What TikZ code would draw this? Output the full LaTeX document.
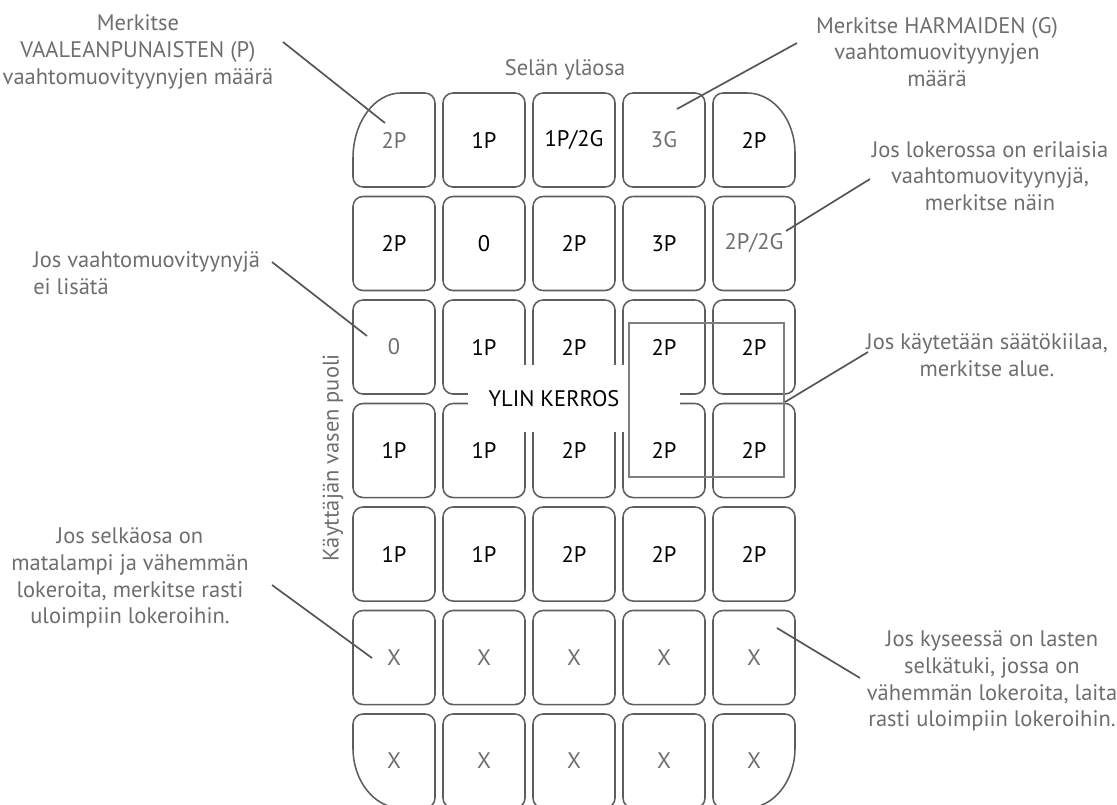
\documentclass[tikz,border=0pt]{standalone}
\usepackage{fontspec}
\setmainfont{PT Sans}
\usepackage{tikz}
\definecolor{CellGray}{HTML}{5E5E5E}
\definecolor{NoteGray}{HTML}{6E6E6E}
\definecolor{LineGray}{HTML}{555555}
\definecolor{WedgeGray}{HTML}{808080}
\newcommand{\notesize}{\fontsize{16}{19}\selectfont}
\newcommand{\cellsize}{\fontsize{16}{19}\selectfont}

\begin{document}
\begin{tikzpicture}[x=0.025cm,y=-0.025cm,
  cell/.style={draw=CellGray,line width=1.1pt,rounded corners=0.25cm,minimum width=2.05cm,minimum height=2.35cm,inner sep=0pt,font=\cellsize},
  opencell/.style={cell,draw=none},
  rim/.style={draw=CellGray,line width=1.1pt},
  note/.style={align=center,font=\notesize,text=NoteGray,inner sep=0pt},
  lead/.style={LineGray,line width=1.2pt},
  wedge/.style={draw=WedgeGray,line width=1.1pt}
]
  \clip (0,0) rectangle (1117,804);

  % grid of pockets
  \foreach \t/\c/\s [count=\i] in {2P/NoteGray/opencell,1P/black/cell,{1P/2G}/black/cell,3G/NoteGray/cell,2P/black/opencell}
    \node[\s,text=\c] (r1c\i) at ({394+90*(\i-1)},140) {\t};
  \foreach \t/\c [count=\i] in {2P/black,0/black,2P/black,3P/black,{2P/2G}/NoteGray}
    \node[cell,text=\c] (r2c\i) at ({394+90*(\i-1)},243.5) {\t};
  \foreach \t/\c [count=\i] in {0/NoteGray,1P/black,2P/black,2P/black,2P/black}
    \node[cell,text=\c] (r3c\i) at ({394+90*(\i-1)},347) {\t};
  \foreach \t [count=\i] in {1P,1P,2P,2P,2P}
    \node[cell] (r4c\i) at ({394+90*(\i-1)},450.5) {\t};
  \foreach \t [count=\i] in {1P,1P,2P,2P,2P}
    \node[cell] (r5c\i) at ({394+90*(\i-1)},554) {\t};
  \foreach \i in {1,...,5}
    \node[cell,text=NoteGray] (r6c\i) at ({394+90*(\i-1)},657.5) {X};
  \foreach \s [count=\i] in {opencell,cell,cell,cell,opencell}
    \node[\s,text=NoteGray] (r7c\i) at ({394+90*(\i-1)},761) {X};

  % corner pockets
  \draw[rim] (353,158) arc[start angle=180,end angle=90,x radius=1.2cm,y radius=1.625cm]
    [rounded corners=0.25cm] -- (435,93) -- (435,187) -- (353,187) -- (353,158);
  \draw[rim] (795,153) arc[start angle=0,end angle=90,x radius=1.2cm,y radius=1.5cm]
    [rounded corners=0.25cm] -- (713,93) -- (713,187) -- (795,187) -- (795,153);
  \draw[rim] (401,808) arc[start angle=270,end angle=180,x radius=1.2cm,y radius=1.5cm]
    [rounded corners=0.25cm] -- (353,714) -- (435,714) -- (435,808) -- (401,808);
  \draw[rim] (795,748) arc[start angle=0,end angle=-90,x radius=1.2cm,y radius=1.5cm]
    [rounded corners=0.25cm] -- (713,808) -- (713,714) -- (795,714) -- (795,748);

  \fill[white] (468,365) rectangle (680,432);
  \draw[wedge] (629,323) rectangle (784,477);
  \node[font=\cellsize,inner sep=0pt] (ylin) at (554,399) {YLIN KERROS};

  % notes
  \node[note] (pinknote) at (138,52) {Merkitse\\VAALEANPUNAISTEN (P)\\vaahtomuovityynyjen määrä};
  \node[note] (greynote) at (937,52) {Merkitse HARMAIDEN (G)\\vaahtomuovityynyjen\\määrä};
  \node[note] (backtop) at (565,70) {Selän yläosa};
  \node[note] (mixnote) at (990,176) {Jos lokerossa on erilaisia\\vaahtomuovityynyjä,\\merkitse näin};
  \node[note,align=left,anchor=west] (zeronote) at (33,273) {Jos vaahtomuovityynyjä\\ei lisätä};
  \node[note] (wedgenote) at (987,355) {Jos käytetään säätökiilaa,\\merkitse alue.};
  \node[note,rotate=90] (leftside) at (333,458) {Käyttäjän vasen puoli};
  \node[note] (lownote) at (130,578) {Jos selkäosa on\\matalampi ja vähemmän\\lokeroita, merkitse rasti\\uloimpiin lokeroihin.};
  \node[note] (childnote) at (992,681) {Jos kyseessä on lasten\\selkätuki, jossa on\\vähemmän lokeroita, laita\\rasti uloimpiin lokeroihin.};

  % leader lines
  \coordinate (pinkfrom) at (283,42);   \coordinate (pinkto) at (385,123);
  \coordinate (greyfrom) at (797,43);   \coordinate (greyto) at (677,109);
  \coordinate (mixfrom) at (870,179);   \coordinate (mixto) at (786,231);
  \coordinate (zerofrom) at (272,262);  \coordinate (zeroto) at (367,336);
  \coordinate (wedgefrom) at (868,352); \coordinate (wedgeto) at (785,402);
  \coordinate (lowfrom) at (272,585);   \coordinate (lowto) at (372,658);
  \coordinate (childfrom) at (860,678); \coordinate (childto) at (777,628);
  \draw[lead] (pinkfrom) -- (pinkto);
  \draw[lead] (greyfrom) -- (greyto);
  \draw[lead] (mixfrom) -- (mixto);
  \draw[lead] (zerofrom) -- (zeroto);
  \draw[lead] (wedgefrom) -- (wedgeto);
  \draw[lead] (lowfrom) -- (lowto);
  \draw[lead] (childfrom) -- (childto);
\end{tikzpicture}
\end{document}
